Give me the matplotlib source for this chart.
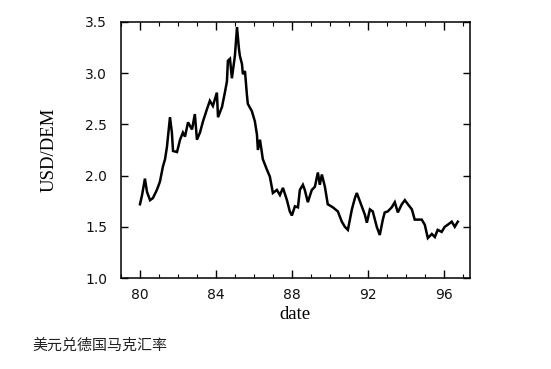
import matplotlib
matplotlib.use("Agg")
import matplotlib.pyplot as plt
from matplotlib.ticker import MultipleLocator

# Data (year since 1900, USD/DEM rate)
years = [80.00, 80.11, 80.26, 80.37, 80.53, 80.68, 80.89, 81.05, 81.21, 81.32,
         81.42, 81.58, 81.68, 81.74, 81.95, 82.11, 82.26, 82.37, 82.53, 82.74,
         82.89, 83.00, 83.16, 83.32, 83.53, 83.68, 83.84, 84.05, 84.11, 84.32,
         84.47, 84.58, 84.63, 84.74, 84.84, 85.00, 85.11, 85.21, 85.26, 85.37,
         85.42, 85.53, 85.63, 85.68, 85.89, 86.05, 86.16, 86.21, 86.32, 86.47,
         86.68, 86.84, 87.00, 87.21, 87.37, 87.53, 87.74, 87.89, 88.00, 88.16,
         88.32, 88.42, 88.58, 88.68, 88.84, 89.05, 89.21, 89.37, 89.47, 89.58,
         89.74, 89.89, 90.16, 90.42, 90.63, 90.79, 90.95, 91.16, 91.32, 91.42,
         91.58, 91.68, 91.84, 91.95, 92.11, 92.26, 92.47, 92.63, 92.79, 92.89,
         93.05, 93.26, 93.42, 93.58, 93.79, 93.95, 94.11, 94.32, 94.47, 94.63,
         94.84, 95.00, 95.16, 95.37, 95.53, 95.68, 95.89, 96.05, 96.21, 96.42,
         96.58, 96.74]
rates = [1.72, 1.81, 1.97, 1.84, 1.76, 1.78, 1.86, 1.94, 2.09, 2.16,
         2.28, 2.57, 2.42, 2.24, 2.23, 2.35, 2.42, 2.38, 2.52, 2.45,
         2.60, 2.35, 2.42, 2.53, 2.65, 2.73, 2.68, 2.81, 2.57, 2.67,
         2.81, 2.92, 3.12, 3.14, 2.95, 3.17, 3.45, 3.24, 3.17, 3.09,
         2.99, 3.02, 2.79, 2.70, 2.63, 2.53, 2.40, 2.25, 2.35, 2.16,
         2.06, 1.99, 1.83, 1.86, 1.81, 1.88, 1.76, 1.65, 1.61, 1.70,
         1.69, 1.86, 1.91, 1.86, 1.74, 1.86, 1.89, 2.03, 1.91, 2.01,
         1.89, 1.72, 1.69, 1.65, 1.55, 1.50, 1.47, 1.67, 1.78, 1.83,
         1.75, 1.70, 1.62, 1.54, 1.67, 1.65, 1.50, 1.42, 1.57, 1.64,
         1.65, 1.69, 1.74, 1.64, 1.72, 1.76, 1.72, 1.67, 1.57, 1.57,
         1.57, 1.52, 1.39, 1.43, 1.40, 1.47, 1.45, 1.50, 1.52, 1.55,
         1.50, 1.55]

x_ticks = [80, 84, 88, 92, 96]
x_ticklabels = ["80", "84", "88", "92", "96"]
y_ticks = [1.0, 1.5, 2.0, 2.5, 3.0, 3.5]
y_ticklabels = ["1.0", "1.5", "2.0", "2.5", "3.0", "3.5"]

fig = plt.figure(figsize=(5.51, 3.69), dpi=100)
ax = fig.add_axes([0.2196, 0.2466, 0.633, 0.694])
ax.plot(years, rates, color="black", lw=1.8, solid_joinstyle="miter")

ax.set_xlim(79.0, 97.37)
ax.set_ylim(1.0, 3.5)
ax.set_xticks(x_ticks)
ax.set_xticklabels(x_ticklabels)
ax.set_yticks(y_ticks)
ax.set_yticklabels(y_ticklabels)
ax.xaxis.set_minor_locator(MultipleLocator(1))

ax.tick_params(axis="x", which="major", direction="in", length=6, width=1,
               top=True, bottom=True, labelsize=10, pad=7, labelcolor="#111111")
ax.tick_params(axis="x", which="minor", direction="in", length=3, width=0.8,
               top=True, bottom=True)
ax.tick_params(axis="y", which="major", direction="in", length=5, width=1,
               left=True, right=True, labelsize=10, pad=10, labelcolor="#111111")
for s in ax.spines.values():
    s.set_linewidth(1.1)
    s.set_color("black")

ax.set_xlabel("date", family="Liberation Serif", fontsize=13.5, labelpad=3)
ax.set_ylabel("USD/DEM", family="Liberation Serif", fontsize=13.5, labelpad=20)

fig.text(0.058, 0.045, "美元兑德国马克汇率", family=["Noto Sans CJK SC", "DejaVu Sans"],
         fontsize=10.8, color="#222222", ha="left", va="bottom")

fig.savefig("out.png", dpi=100)
